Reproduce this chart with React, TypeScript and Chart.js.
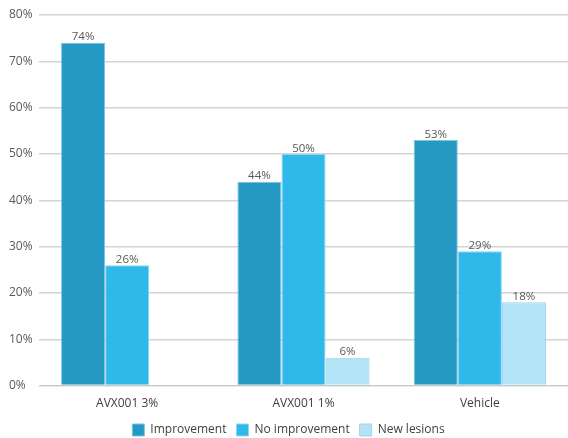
import React, { useEffect, useRef } from "react";
import { Chart, registerables } from "chart.js";

Chart.register(...registerables);

const categories = ["AVX001 3%", "AVX001 1%", "Vehicle"];
const improvement = [74, 44, 53];
const noImprovement = [26, 50, 29];
const newLesions = [null, 6, 18];
const seriesNames = ["Improvement", "No improvement", "New lesions"];
const yTicks = [0, 10, 20, 30, 40, 50, 60, 70, 80];

const FONT = "'Open Sans', 'DejaVu Sans', sans-serif";

const labelPlugin = {
  id: "barLabels",
  afterDatasetsDraw(chart: any) {
    const ctx = chart.ctx;
    ctx.save();
    ctx.font = `11.5px ${FONT}`;
    ctx.fillStyle = "#595959";
    ctx.textAlign = "center";
    ctx.textBaseline = "bottom";
    chart.data.datasets.forEach((ds: any, i: number) => {
      const meta = chart.getDatasetMeta(i);
      meta.data.forEach((el: any, j: number) => {
        const v = ds.data[j];
        if (v === null || v === undefined) return;
        ctx.fillText(`${v}%`, el.x, el.y);
      });
    });
    ctx.restore();
  },
};

export default function App() {
  const ref = useRef<HTMLCanvasElement>(null);
  useEffect(() => {
    if (!ref.current) return;
    const chart = new Chart(ref.current, {
      type: "bar",
      data: {
        labels: categories,
        datasets: [
          { label: seriesNames[0], data: improvement, backgroundColor: "#2499c3", borderColor: "#7fc3dc", borderWidth: 1 },
          { label: seriesNames[1], data: noImprovement, backgroundColor: "#2fb9ea", borderColor: "#8fd6f1", borderWidth: 1 },
          { label: seriesNames[2], data: newLesions as any, backgroundColor: "#b2e3f6", borderColor: "#9fd3e8", borderWidth: 1 },
        ],
      },
      options: {
        animation: false,
        responsive: false,
        maintainAspectRatio: false,
        layout: { padding: { top: 15, right: 0, left: 9, bottom: -8 } },
        datasets: { bar: { barPercentage: 1, categoryPercentage: 0.75 } },
        plugins: {
          legend: {
            position: "bottom",
            labels: {
              font: { family: FONT, size: 12 },
              color: "#404040",
              boxWidth: 12,
              boxHeight: 12,
              padding: 10,
            },
          },
          tooltip: { enabled: false },
        },
        scales: {
          x: {
            grid: { display: false },
            border: { color: "#c8c8c8" },
            ticks: { font: { family: FONT, size: 12 }, color: "#404040", padding: 3 },
          },
          y: {
            min: 0,
            max: 80,
            afterBuildTicks: (axis: any) => {
              axis.ticks = yTicks.map((v) => ({ value: v }));
            },
            afterFit: (scale: any) => {
              scale.width = 30;
            },
            grid: { color: "#d4d4d4", drawTicks: false, lineWidth: 1.5 },
            border: { display: false },
            ticks: {
              font: { family: FONT, size: 12 },
              color: "#595959",
              callback: (v: any) => `${v}%`,
              crossAlign: "far",
              padding: 7,
            },
          },
        },
      },
      plugins: [labelPlugin],
    });
    return () => chart.destroy();
  }, []);
  return (
    <div style={{ position: "fixed", left: 0, top: 0, width: 568, height: 438, background: "#fff" }}>
      <canvas ref={ref} width={568} height={438} />
    </div>
  );
}
